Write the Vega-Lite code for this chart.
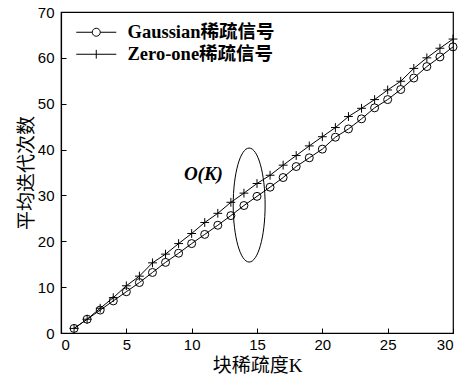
{
  "$schema": "https://vega.github.io/schema/vega-lite/v6.json",
  "width": 392,
  "height": 321,
  "autosize": "none",
  "padding": {"left": 61, "top": 12, "right": 19, "bottom": 41},
  "background": "white",
  "config": {
    "view": {"stroke": "black", "strokeWidth": 1.2},
    "axis": {
      "grid": false,
      "domainColor": "black",
      "domainWidth": 1.2,
      "tickColor": "black",
      "tickSize": -5,
      "labelFont": "Liberation Sans",
      "labelFontSize": 15,
      "labelColor": "black",
      "titleFont": "Liberation Serif, Noto Sans CJK SC",
      "titleFontSize": 19,
      "titleFontWeight": "normal",
      "titleColor": "black"
    }
  },
  "datasets": {
    "curves": [
      {"K": 1, "series": "Gaussian稀疏信号", "iter": 1.0},
      {"K": 2, "series": "Gaussian稀疏信号", "iter": 3.0},
      {"K": 3, "series": "Gaussian稀疏信号", "iter": 5.0},
      {"K": 4, "series": "Gaussian稀疏信号", "iter": 7.0},
      {"K": 5, "series": "Gaussian稀疏信号", "iter": 9.0},
      {"K": 6, "series": "Gaussian稀疏信号", "iter": 11.0},
      {"K": 7, "series": "Gaussian稀疏信号", "iter": 13.2},
      {"K": 8, "series": "Gaussian稀疏信号", "iter": 15.4},
      {"K": 9, "series": "Gaussian稀疏信号", "iter": 17.4},
      {"K": 10, "series": "Gaussian稀疏信号", "iter": 19.5},
      {"K": 11, "series": "Gaussian稀疏信号", "iter": 21.5},
      {"K": 12, "series": "Gaussian稀疏信号", "iter": 23.5},
      {"K": 13, "series": "Gaussian稀疏信号", "iter": 25.6},
      {"K": 14, "series": "Gaussian稀疏信号", "iter": 27.8},
      {"K": 15, "series": "Gaussian稀疏信号", "iter": 29.8},
      {"K": 16, "series": "Gaussian稀疏信号", "iter": 31.8},
      {"K": 17, "series": "Gaussian稀疏信号", "iter": 33.9},
      {"K": 18, "series": "Gaussian稀疏信号", "iter": 36.3},
      {"K": 19, "series": "Gaussian稀疏信号", "iter": 38.2},
      {"K": 20, "series": "Gaussian稀疏信号", "iter": 40.1},
      {"K": 21, "series": "Gaussian稀疏信号", "iter": 42.7},
      {"K": 22, "series": "Gaussian稀疏信号", "iter": 44.5},
      {"K": 23, "series": "Gaussian稀疏信号", "iter": 46.7},
      {"K": 24, "series": "Gaussian稀疏信号", "iter": 49.1},
      {"K": 25, "series": "Gaussian稀疏信号", "iter": 50.9},
      {"K": 26, "series": "Gaussian稀疏信号", "iter": 53.1},
      {"K": 27, "series": "Gaussian稀疏信号", "iter": 55.6},
      {"K": 28, "series": "Gaussian稀疏信号", "iter": 58.1},
      {"K": 29, "series": "Gaussian稀疏信号", "iter": 60.2},
      {"K": 30, "series": "Gaussian稀疏信号", "iter": 62.4},
      {"K": 1, "series": "Zero-one稀疏信号", "iter": 1.0},
      {"K": 2, "series": "Zero-one稀疏信号", "iter": 3.0},
      {"K": 3, "series": "Zero-one稀疏信号", "iter": 5.4},
      {"K": 4, "series": "Zero-one稀疏信号", "iter": 7.7},
      {"K": 5, "series": "Zero-one稀疏信号", "iter": 10.3},
      {"K": 6, "series": "Zero-one稀疏信号", "iter": 12.4},
      {"K": 7, "series": "Zero-one稀疏信号", "iter": 15.3},
      {"K": 8, "series": "Zero-one稀疏信号", "iter": 17.2},
      {"K": 9, "series": "Zero-one稀疏信号", "iter": 19.5},
      {"K": 10, "series": "Zero-one稀疏信号", "iter": 21.7},
      {"K": 11, "series": "Zero-one稀疏信号", "iter": 24.1},
      {"K": 12, "series": "Zero-one稀疏信号", "iter": 26.1},
      {"K": 13, "series": "Zero-one稀疏信号", "iter": 28.5},
      {"K": 14, "series": "Zero-one稀疏信号", "iter": 30.5},
      {"K": 15, "series": "Zero-one稀疏信号", "iter": 32.6},
      {"K": 16, "series": "Zero-one稀疏信号", "iter": 34.4},
      {"K": 17, "series": "Zero-one稀疏信号", "iter": 36.6},
      {"K": 18, "series": "Zero-one稀疏信号", "iter": 38.7},
      {"K": 19, "series": "Zero-one稀疏信号", "iter": 40.8},
      {"K": 20, "series": "Zero-one稀疏信号", "iter": 42.8},
      {"K": 21, "series": "Zero-one稀疏信号", "iter": 44.8},
      {"K": 22, "series": "Zero-one稀疏信号", "iter": 47.2},
      {"K": 23, "series": "Zero-one稀疏信号", "iter": 49.0},
      {"K": 24, "series": "Zero-one稀疏信号", "iter": 50.9},
      {"K": 25, "series": "Zero-one稀疏信号", "iter": 53.0},
      {"K": 26, "series": "Zero-one稀疏信号", "iter": 54.9},
      {"K": 27, "series": "Zero-one稀疏信号", "iter": 57.7},
      {"K": 28, "series": "Zero-one稀疏信号", "iter": 60.0},
      {"K": 29, "series": "Zero-one稀疏信号", "iter": 62.1},
      {"K": 30, "series": "Zero-one稀疏信号", "iter": 64.1}
    ],
    "ellipse": [{"K": 14.4, "iter": 27.9}],
    "note": [{"K": 10.9, "iter": 34.7, "label": "O(K)"}]
  },
  "layer": [
    {
      "data": {"name": "curves"},
      "mark": {"type": "line", "color": "black", "strokeWidth": 1},
      "encoding": {
        "x": {
          "field": "K", "type": "quantitative",
          "scale": {"domain": [0, 30], "nice": false},
          "axis": {"values": [0, 5, 10, 15, 20, 25, 30], "title": "块稀疏度K", "titlePadding": 4, "labelPadding": 9}
        },
        "y": {
          "field": "iter", "type": "quantitative",
          "scale": {"domain": [0, 70], "nice": false},
          "axis": {"values": [0, 10, 20, 30, 40, 50, 60, 70], "title": "平均迭代次数", "titlePadding": 1, "labelPadding": 12}
        },
        "detail": {"field": "series"}
      }
    },
    {
      "data": {"name": "curves"},
      "mark": {"type": "point", "filled": false, "stroke": "black", "strokeWidth": 1, "size": 64, "opacity": 1},
      "encoding": {
        "x": {"field": "K", "type": "quantitative"},
        "y": {"field": "iter", "type": "quantitative"},
        "shape": {
          "field": "series", "type": "nominal",
          "scale": {"domain": ["Gaussian稀疏信号", "Zero-one稀疏信号"], "range": ["circle", "M-1.1,0L1.1,0M0,-1.1L0,1.1"]},
          "legend": null
        }
      }
    },
    {
      "data": {"name": "curves"},
      "transform": [{"filter": "datum.K < 0"}],
      "mark": {"type": "point", "filled": false, "stroke": "black", "strokeWidth": 1, "size": 256, "opacity": 1},
      "encoding": {
        "x": {"field": "K", "type": "quantitative"},
        "y": {"field": "iter", "type": "quantitative"},
        "shape": {
          "field": "series", "type": "nominal",
          "scale": {"domain": ["Gaussian稀疏信号", "Zero-one稀疏信号"], "range": ["M-2.5,0L-0.5,0M0.5,0A0.5,0.5 0 1,1 -0.5,0A0.5,0.5 0 1,1 0.5,0M0.5,0L2.5,0", "M-2.5,0L2.5,0M0,-0.55L0,0.55"]},
          "legend": {
            "title": null,
            "orient": "none",
            "legendX": 26,
            "legendY": 11,
            "symbolSize": 256,
            "symbolStrokeColor": "black",
            "symbolFillColor": "transparent",
            "symbolStrokeWidth": 1,
            "symbolOpacity": 1,
            "rowPadding": 3,
            "labelOffset": 22,
            "labelFont": "Liberation Serif, Noto Sans CJK SC",
            "labelFontSize": 18.5,
            "labelFontWeight": "bold",
            "labelColor": "black"
          }
        }
      }
    },
    {
      "data": {"name": "ellipse"},
      "mark": {"type": "point", "filled": false, "stroke": "black", "strokeWidth": 1, "size": 12996, "opacity": 1, "shape": "M0,-1A0.28,1 0 1,1 0,1A0.28,1 0 1,1 0,-1Z"},
      "encoding": {
        "x": {"field": "K", "type": "quantitative"},
        "y": {"field": "iter", "type": "quantitative"}
      }
    },
    {
      "data": {"name": "note"},
      "mark": {"type": "text", "font": "Liberation Serif", "fontSize": 19, "fontStyle": "italic", "fontWeight": "bold", "color": "black", "align": "center", "baseline": "middle"},
      "encoding": {
        "x": {"field": "K", "type": "quantitative"},
        "y": {"field": "iter", "type": "quantitative"},
        "text": {"field": "label"}
      }
    }
  ],
  "resolve": {"scale": {"shape": "independent"}}
}
